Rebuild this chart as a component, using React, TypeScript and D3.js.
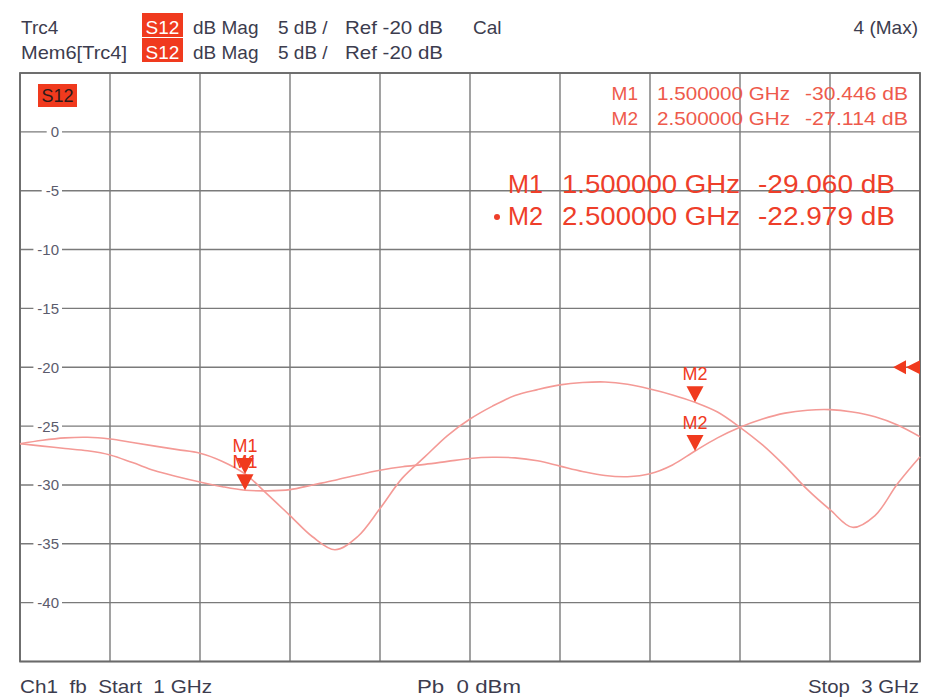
import React from "react";
import * as d3 from "d3";

// sweep points (GHz)
const freqGHz = [
  1.0, 1.05, 1.1, 1.15, 1.2, 1.25, 1.3, 1.35, 1.4, 1.45, 1.5, 1.55, 1.6, 1.65,
  1.7, 1.75, 1.8, 1.85, 1.9, 1.95, 2.0, 2.05, 2.1, 2.15, 2.2, 2.25, 2.3, 2.35,
  2.4, 2.45, 2.5, 2.55, 2.6, 2.65, 2.7, 2.75, 2.8, 2.85, 2.9, 2.95, 3.0,
];
// Trc4 S12 (dB)
const trc4Db = [
  -26.5, -26.2, -26.0, -25.95, -26.1, -26.4, -26.7, -27.0, -27.3, -28.0, -29.06,
  -30.8, -32.6, -34.4, -35.5, -34.4, -32.0, -29.4, -27.6, -25.8, -24.4, -23.3,
  -22.4, -21.9, -21.5, -21.3, -21.25, -21.45, -21.85, -22.35, -22.98, -23.8, -25.1,
  -26.6, -28.4, -30.4, -32.1, -33.6, -32.6, -29.9, -27.6,
];
// Mem6[Trc4] S12 (dB)
const mem6Db = [
  -26.5, -26.7, -26.9, -27.1, -27.45, -28.1, -28.8, -29.3, -29.75, -30.15, -30.446,
  -30.5, -30.4, -30.0, -29.6, -29.15, -28.75, -28.45, -28.25, -28.0, -27.75, -27.65,
  -27.7, -27.95, -28.4, -28.85, -29.2, -29.3, -29.05, -28.3, -27.114, -26.0, -25.1,
  -24.4, -23.9, -23.65, -23.6, -23.8, -24.2, -24.9, -25.9,
];

const yTickLabels = [0, -5, -10, -15, -20, -25, -30, -35, -40];
const markerNames = ["M1", "M2"];
const markerFreqs = [1.5, 2.5];
const trc4MarkerDb = [-29.06, -22.979];
const mem6MarkerDb = [-30.446, -27.114];
const refLevel = -20;

const FONT = "'Liberation Sans', Arial, sans-serif";
const RED = "#f03a1e";
const TRACE = "#f49a96";
const GRID = "#7a7a7a";
const TXT = "#3c3c4e";

export default function App() {
  const W = 945;
  const H = 697;
  const left = 20,
    right = 920,
    top = 73,
    bottom = 661.5;

  const x = d3.scaleLinear().domain([1, 3]).range([left, right]);
  const y = d3.scaleLinear().domain([5, -45]).range([top, bottom]);

  const line = d3
    .line<number>()
    .x((d, i) => x(freqGHz[i]))
    .y((d) => y(d))
    .curve(d3.curveCatmullRom.alpha(0.5));

  const tri = (cx: number, tip: number) =>
    `M${cx - 8.5},${tip - 16}L${cx + 8.5},${tip - 16}L${cx},${tip}Z`;

  const tickW = (v: number) => {
    const s = String(v);
    let w = 0;
    for (const c of s) w += c === "-" ? 5 : 8.3;
    return w;
  };

  const markerTips: { f: number; v: number; name: string }[] = [];
  markerNames.forEach((n, i) => {
    markerTips.push({ f: markerFreqs[i], v: trc4MarkerDb[i], name: n });
    markerTips.push({ f: markerFreqs[i], v: mem6MarkerDb[i], name: n });
  });

  const refY = y(refLevel);
  const pre = { whiteSpace: "pre" as const };

  return (
    <div>
      <style>{`body{margin:0;background:#fff}`}</style>
      <svg width={W} height={H} style={{ display: "block" }} fontFamily={FONT}>
        <rect width={W} height={H} fill="#fff" />

        {/* header */}
        <g fill={TXT} fontSize={19}>
          <text x={21} y={34}>Trc4</text>
          <text x={21} y={59} textLength={106} lengthAdjust="spacingAndGlyphs">
            Mem6[Trc4]
          </text>
          {[13, 38].map((yy, i) => (
            <g key={i}>
              <rect x={142} y={yy} width={41} height={24} fill={RED} />
              <text x={162.5} y={yy + 21} fill="#fff" textAnchor="middle">S12</text>
              <text x={193} y={yy + 21}>dB Mag</text>
              <text x={278} y={yy + 21}>5 dB /</text>
              <text x={345} y={yy + 21} textLength={98} lengthAdjust="spacingAndGlyphs">
                Ref -20 dB
              </text>
            </g>
          ))}
          <text x={473} y={34}>Cal</text>
          <text x={918} y={34} textAnchor="end">4 (Max)</text>
        </g>

        {/* grid */}
        <g stroke={GRID} strokeWidth={1.4}>
          {x.ticks(10).map((f) => (
            <line key={"v" + f} x1={x(f)} x2={x(f)} y1={top} y2={bottom} />
          ))}
          {y.ticks(10).map((v) => (
            <line key={"h" + v} x1={left} x2={right} y1={y(v)} y2={y(v)} />
          ))}
        </g>
        <rect
          x={left}
          y={top}
          width={right - left}
          height={bottom - top}
          fill="none"
          stroke="#6a6a6a"
          strokeWidth={1.8}
        />

        {/* y tick labels */}
        {yTickLabels.map((v) => (
          <g key={"t" + v}>
            <rect
              x={59 - tickW(v) - 4}
              y={y(v) - 8}
              width={tickW(v) + 7}
              height={16}
              fill="#fff"
            />
            <text
              x={59}
              y={y(v) + 5.5}
              textAnchor="end"
              fontSize={15}
              fill="#5b5b6c"
            >
              {v}
            </text>
          </g>
        ))}

        {/* S12 tag */}
        <rect x={38} y={84} width={39} height={23} fill={RED} />
        <text x={57.5} y={102} textAnchor="middle" fontSize={18} fill="#2a1a1a">
          S12
        </text>

        {/* small marker table */}
        <g fill="#ee5a4c" fontSize={19}>
          {markerNames.map((n, i) => (
            <g key={"s" + n}>
              <text x={638} y={100 + i * 25} textAnchor="end">{n}</text>
              <text x={657} y={100 + i * 25} textLength={133} lengthAdjust="spacingAndGlyphs">
                {markerFreqs[i].toFixed(6) + " GHz"}
              </text>
              <text x={908} y={100 + i * 25} textAnchor="end" textLength={103} lengthAdjust="spacingAndGlyphs">
                {mem6MarkerDb[i].toFixed(3) + " dB"}
              </text>
            </g>
          ))}
        </g>

        {/* large marker readout */}
        <g fill="#ee3e2a" fontSize={25}>
          {markerNames.map((n, i) => (
            <g key={"l" + n}>
              <text x={508} y={193 + i * 32} textLength={35} lengthAdjust="spacingAndGlyphs">{n}</text>
              <text x={562} y={193 + i * 32} textLength={178} lengthAdjust="spacingAndGlyphs">
                {markerFreqs[i].toFixed(6) + " GHz"}
              </text>
              <text x={895} y={193 + i * 32} textAnchor="end" textLength={137} lengthAdjust="spacingAndGlyphs">
                {trc4MarkerDb[i].toFixed(3) + " dB"}
              </text>
            </g>
          ))}
          <circle cx={497} cy={217} r={3} />
        </g>

        {/* traces */}
        <path d={line(mem6Db) || ""} fill="none" stroke={TRACE} strokeWidth={1.6} />
        <path d={line(trc4Db) || ""} fill="none" stroke={TRACE} strokeWidth={1.6} />

        {/* markers */}
        {markerTips.map((m, i) => (
          <text
            key={"ml" + i}
            x={x(m.f)}
            y={y(m.v) - 22}
            textAnchor="middle"
            fontSize={18}
            fill={RED}
          >
            {m.name}
          </text>
        ))}
        {markerTips.map((m, i) => (
          <path key={"mt" + i} d={tri(x(m.f), y(m.v))} fill={RED} />
        ))}

        {/* reference level */}
        <path
          d={`M${right - 27},${refY}L${right - 14},${refY - 7}L${right - 14},${refY + 7}Z M${right - 14},${refY}L${right},${refY - 7}L${right},${refY + 7}Z`}
          fill={RED}
        />

        {/* footer */}
        <g fill={TXT} fontSize={19}>
          <text x={20} y={693} style={pre} textLength={192} lengthAdjust="spacingAndGlyphs">
            {"Ch1  fb  Start  1 GHz"}
          </text>
          <text x={417} y={693} style={pre} textLength={104} lengthAdjust="spacingAndGlyphs">
            {"Pb  0 dBm"}
          </text>
          <text x={919} y={693} style={pre} textAnchor="end" textLength={111} lengthAdjust="spacingAndGlyphs">
            {"Stop  3 GHz"}
          </text>
        </g>
      </svg>
    </div>
  );
}
